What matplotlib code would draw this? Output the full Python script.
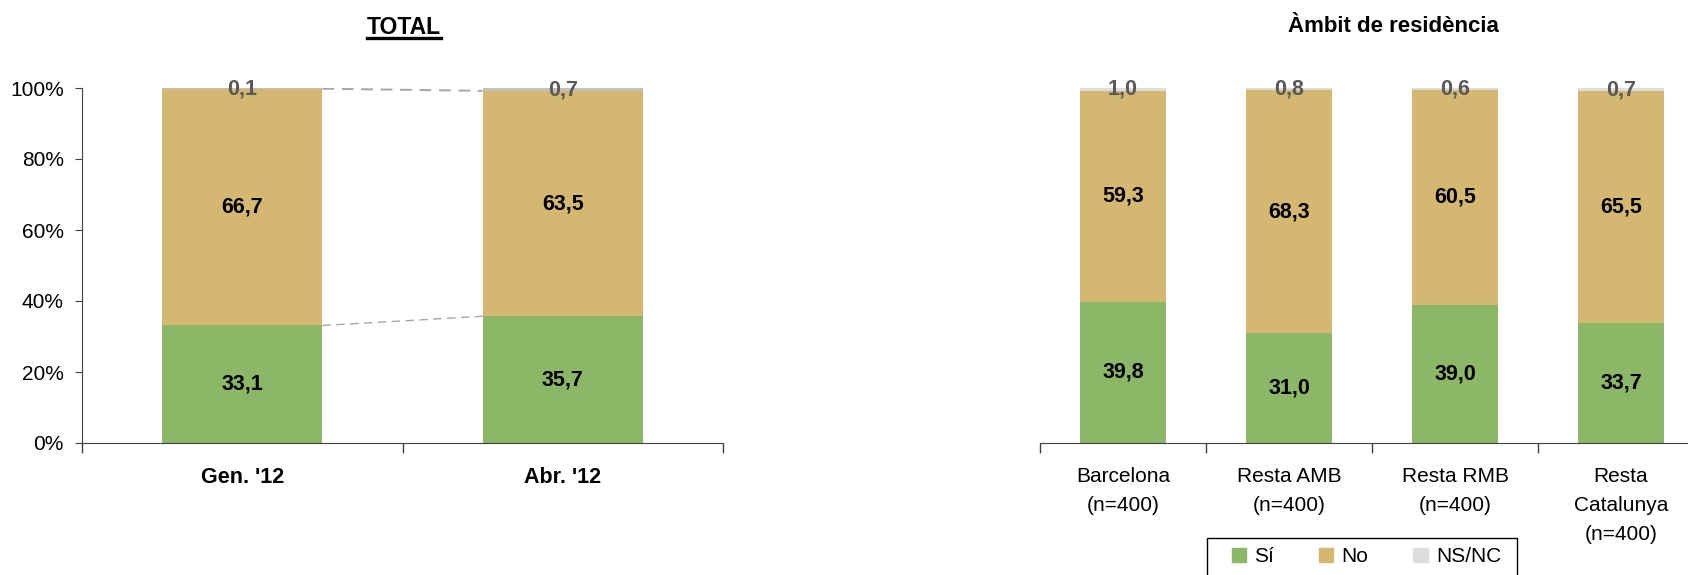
import matplotlib
matplotlib.use("Agg")
import matplotlib.pyplot as plt
from matplotlib.patches import Patch, Rectangle
from matplotlib.lines import Line2D

plt.rcParams['font.family'] = ['Liberation Sans', 'DejaVu Sans']

# dades
total_cats = ["Gen. '12", "Abr. '12"]
total_si = [33.1, 35.7]
total_no = [66.7, 63.5]
total_ns = [0.1, 0.7]

ambit_cats = ["Barcelona\n(n=400)", "Resta AMB\n(n=400)", "Resta RMB\n(n=400)",
              "Resta\nCatalunya\n(n=400)"]
ambit_si = [39.8, 31.0, 39.0, 33.7]
ambit_no = [59.3, 68.3, 60.5, 65.5]
ambit_ns = [1.0, 0.8, 0.6, 0.7]

legend_labels = ["Sí", "No", "NS/NC"]

GREEN = "#8BB766"
TAN = "#D4B872"
GRAY_L = "#C0C0C0"
GRAY_R = "#DDDDDD"
LBL_GRAY = "#595959"
AXCOL = "#404040"

W, H = 1688, 575
fig = plt.figure(figsize=(W / 100, H / 100), dpi=100)


def fmt(v):
    return f"{v:.1f}".replace(".", ",")


def stacked(ax, cats, si, no, ns, width, nscol):
    x = list(range(len(cats)))
    ax.bar(x, si, width, color=GREEN, clip_on=False)
    ax.bar(x, no, width, bottom=si, color=TAN, clip_on=False)
    tops = [a + b for a, b in zip(si, no)]
    ax.bar(x, ns, width, bottom=tops, color=nscol, clip_on=False)
    for i in x:
        ax.text(i, si[i] / 2, fmt(si[i]), ha='center', va='center',
                fontsize=15.5, fontweight='bold', color='black')
        ax.text(i, si[i] + no[i] / 2, fmt(no[i]), ha='center', va='center',
                fontsize=15.5, fontweight='bold', color='black')
        ax.text(i, tops[i] + ns[i] / 2, fmt(ns[i]), ha='center', va='center',
                fontsize=15.5, fontweight='bold', color=LBL_GRAY, clip_on=False)
    ax.set_ylim(0, 100)
    ax.set_xlim(-0.5, len(cats) - 0.5)
    ax.set_xticks(x)
    ax.set_xticks([i - 0.5 for i in range(len(cats) + 1)], minor=True)
    ax.tick_params(axis='x', which='major', length=0, pad=17)
    ax.tick_params(axis='x', which='minor', length=7, direction='out', width=1,
                   color=AXCOL)
    for s in ['top', 'right']:
        ax.spines[s].set_visible(False)
    for s in ['left', 'bottom']:
        ax.spines[s].set_color(AXCOL)
    return x, tops


# TOTAL
ax1 = fig.add_axes([82 / W, 1 - 443 / H, (723 - 82) / W, (443 - 88) / H])
x1, tops1 = stacked(ax1, total_cats, total_si, total_no, total_ns, 0.5, GRAY_L)
ax1.set_xticklabels(total_cats, fontsize=15.5, fontweight='bold')
ax1.set_yticks([0, 20, 40, 60, 80, 100])
ax1.set_yticklabels([f"{v}%" for v in range(0, 101, 20)], fontsize=15)
ax1.tick_params(axis='y', length=5, pad=8, color=AXCOL)
# línies de connexió
ax1.plot([0.25, 0.75], [total_si[0], total_si[1]], ls=(0, (6, 4)), color='#A6A6A6', lw=1)
ax1.plot([0.25, 0.75], [tops1[0], tops1[1]], ls=(0, (6, 4)), color='#A6A6A6', lw=1.4)

# Àmbit
ax2 = fig.add_axes([1040 / W, 1 - 443 / H, (1704 - 1040) / W, (443 - 88) / H])
stacked(ax2, ambit_cats, ambit_si, ambit_no, ambit_ns, 0.52, GRAY_R)
ax2.set_xticklabels(ambit_cats, fontsize=15, va='top', linespacing=1.68)
ax2.spines['left'].set_visible(False)
ax2.set_yticks([])

# títols
t1 = fig.text(404 / W, 1 - 27 / H, "TOTAL", ha='center', va='center',
              fontsize=16.5, fontweight='bold')
fig.text(1393 / W, 1 - 27 / H, "Àmbit de residència", ha='center', va='center',
         fontsize=16, fontweight='bold')

fig.canvas.draw()
bb = t1.get_window_extent()
fig.add_artist(Line2D([bb.x0 / W, bb.x1 / W], [1 - 38 / H, 1 - 38 / H],
                      color='black', lw=2.4, transform=fig.transFigure))

# llegenda
fig.add_artist(Rectangle((1207 / W, 1 - 590 / H), (1517 - 1207) / W, (590 - 538) / H,
                         transform=fig.transFigure, fill=False, edgecolor='black',
                         lw=1, clip_on=False))
handles = [Patch(color=GREEN), Patch(color=TAN), Patch(color=GRAY_R)]
fig.legend(handles, legend_labels, loc='center left',
           bbox_to_anchor=(1232 / W, 1 - 557 / H), ncol=3, fontsize=15,
           frameon=False, handlelength=0.68, handleheight=0.68, handletextpad=0.4,
           columnspacing=2.15, borderpad=0, borderaxespad=0)

fig.savefig("out.png", dpi=100)
